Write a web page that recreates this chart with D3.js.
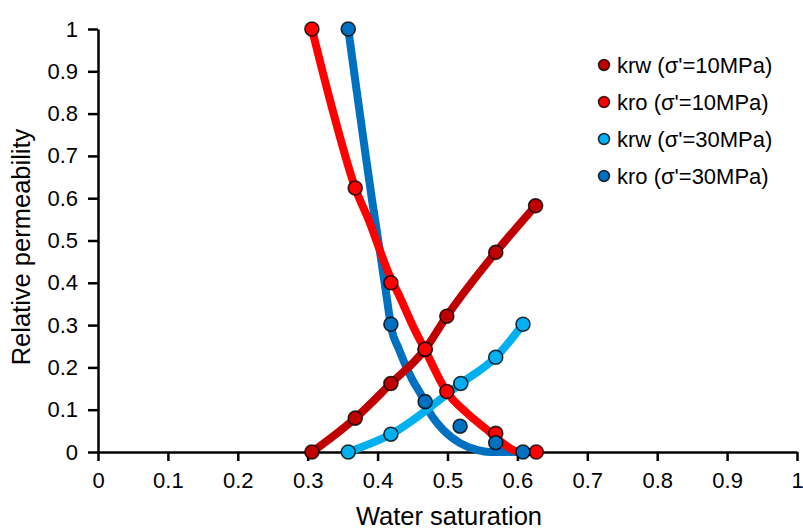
<!DOCTYPE html>
<html>
<head>
<meta charset="utf-8">
<script src="https://cdn.jsdelivr.net/npm/d3@7"></script>
<style>
  html, body { margin: 0; padding: 0; background: #fff; }
  svg { display: block; }
  text { font-family: "Liberation Sans", Arial, sans-serif; fill: #000; }
</style>
</head>
<body>
<svg id="chart" width="803" height="529"></svg>
<script>
// Measured points (water saturation vs. relative permeability)
const swKrw10 = [0.306, 0.368, 0.419, 0.468, 0.499, 0.569, 0.626];
const krw10   = [0, 0.08, 0.162, 0.243, 0.321, 0.472, 0.582];
const swKro10 = [0.306, 0.368, 0.419, 0.468, 0.499, 0.569, 0.627];
const kro10   = [1, 0.624, 0.40, 0.243, 0.143, 0.044, 0];
const swKrw30 = [0.358, 0.419, 0.519, 0.569, 0.608];
const krw30   = [0, 0.042, 0.162, 0.224, 0.302];
const swKro30 = [0.358, 0.419, 0.468, 0.518, 0.569, 0.608];
const kro30   = [1, 0.302, 0.119, 0.061, 0.022, 0];

// Fitted curves for the oil relative permeability
const swKro10Fit = [0.306, 0.337, 0.368, 0.389, 0.403, 0.418, 0.432, 0.451, 0.468, 0.499, 0.528, 0.557, 0.579, 0.599, 0.627];
const kro10Fit   = [1, 0.80, 0.624, 0.541, 0.478, 0.414, 0.366, 0.296, 0.241, 0.142, 0.092, 0.052, 0.021, 0.002, 0];
const swKro30Fit = [0.358, 0.370, 0.382, 0.392, 0.403, 0.413, 0.420, 0.430, 0.440, 0.450, 0.461, 0.475, 0.494, 0.518, 0.542, 0.561, 0.608];
const kro30Fit   = [1, 0.855, 0.712, 0.596, 0.478, 0.366, 0.290, 0.245, 0.205, 0.170, 0.139, 0.092, 0.052, 0.021, 0.005, 0, 0];

const xTicks = [0, 0.1, 0.2, 0.3, 0.4, 0.5, 0.6, 0.7, 0.8, 0.9, 1];
const yTicks = [0, 0.1, 0.2, 0.3, 0.4, 0.5, 0.6, 0.7, 0.8, 0.9, 1];

const seriesNames = ["krw (σ'=10MPa)", "kro (σ'=10MPa)", "krw (σ'=30MPa)", "kro (σ'=30MPa)"];
const seriesColors = ["#C00000", "#FF0000", "#00B0F0", "#0070C0"];

const zip = (xs, ys) => xs.map((x, i) => [x, ys[i]]);
const series = [
  { name: seriesNames[0], color: seriesColors[0], pts: zip(swKrw10, krw10), fit: zip(swKrw10, krw10) },
  { name: seriesNames[1], color: seriesColors[1], pts: zip(swKro10, kro10), fit: zip(swKro10Fit, kro10Fit) },
  { name: seriesNames[2], color: seriesColors[2], pts: zip(swKrw30, krw30), fit: zip(swKrw30, krw30) },
  { name: seriesNames[3], color: seriesColors[3], pts: zip(swKro30, kro30), fit: zip(swKro30Fit, kro30Fit) }
];

const svg = d3.select("#chart");
const x = d3.scaleLinear().domain([0, 1]).range([98, 797]);
const y = d3.scaleLinear().domain([0, 1]).range([452, 29]);

// Axes
const xAxis = svg.append("g").attr("transform", `translate(0,${y(0)})`)
  .call(d3.axisBottom(x).tickValues(xTicks).tickFormat(d3.format("")).tickSize(9).tickSizeOuter(0));
const yAxis = svg.append("g").attr("transform", `translate(${x(0)},0)`)
  .call(d3.axisLeft(y).tickValues(yTicks).tickFormat(d3.format("")).tickSize(10).tickSizeOuter(0));
[xAxis, yAxis].forEach(g => {
  g.selectAll(".domain").attr("stroke", "#000").attr("stroke-width", 2.5);
  g.selectAll(".tick line").attr("stroke", "#000").attr("stroke-width", 2.5);
  g.selectAll(".tick text").attr("font-size", 22).attr("font-family", "Liberation Sans, Arial, sans-serif").attr("fill", "#000");
});
xAxis.selectAll(".tick text").attr("dy", "0.71em").attr("y", 20);
yAxis.selectAll(".tick text").attr("x", -20);

// Axis titles
svg.append("text").attr("x", 449).attr("y", 525).attr("text-anchor", "middle")
  .attr("font-size", 25.5).attr("fill", "#1a1a1a").text("Water saturation");
svg.append("text").attr("transform", "translate(30,247) rotate(-90)").attr("text-anchor", "middle")
  .attr("font-size", 25.5).attr("fill", "#1a1a1a").text("Relative permeability");

// Curves
const line = d3.line().x(d => x(d[0])).y(d => y(d[1])).curve(d3.curveMonotoneX);
const drawOrder = [3, 2, 0, 1];
drawOrder.forEach(i => {
  svg.append("path").datum(series[i].fit)
    .attr("d", line).attr("fill", "none")
    .attr("stroke", series[i].color).attr("stroke-width", 8)
    .attr("stroke-linecap", "butt").attr("stroke-linejoin", "round");
});

// Markers
series.forEach(s => {
  svg.append("g").selectAll("circle").data(s.pts).join("circle")
    .attr("cx", d => x(d[0])).attr("cy", d => y(d[1])).attr("r", 7)
    .attr("fill", s.color).attr("stroke", "rgba(0,0,0,0.8)").attr("stroke-width", 1.6);
});

// Legend
const legend = svg.append("g");
series.forEach((s, i) => {
  const ly = 65 + i * 37;
  legend.append("circle").attr("cx", 604).attr("cy", ly).attr("r", 5.5)
    .attr("fill", s.color).attr("stroke", "rgba(0,0,0,0.8)").attr("stroke-width", 1.5);
  legend.append("text").attr("x", 617).attr("y", ly).attr("dy", "0.35em")
    .attr("font-size", 22).text(s.name);
});
</script>
</body>
</html>
